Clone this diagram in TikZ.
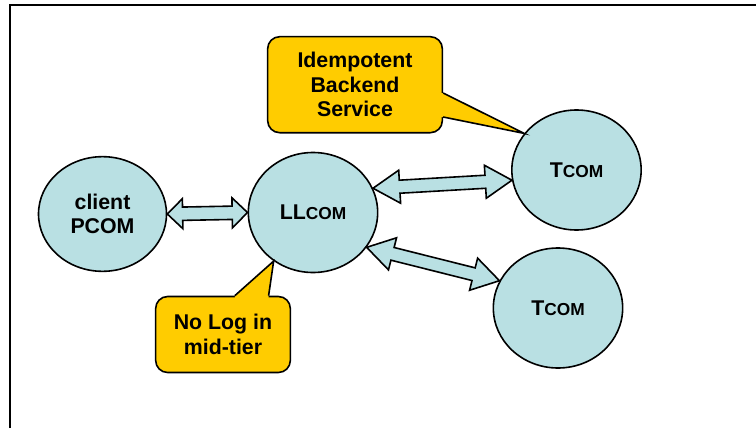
\documentclass[tikz,border=0pt]{standalone}
\usepackage{fontspec}
\setmainfont{Liberation Sans}
\usetikzlibrary{calc, shapes.geometric}
\definecolor{comblue}{HTML}{B9E0E3}
\definecolor{notegold}{HTML}{FFCC00}
\newcommand{\smallcom}[1]{{\fontsize{13}{15}\selectfont #1}}

\begin{document}
\begin{tikzpicture}[
    x=0.75pt, y=-0.75pt,
    every node/.style={font=\bfseries\fontsize{16}{18.5}\selectfont},
    com/.style={
      ellipse, draw, line width=1.2pt, fill=comblue,
      minimum width=97pt, minimum height=90pt, inner sep=0pt, align=center
    },
    note/.style={
      rectangle, rounded corners=9pt, draw, line width=1.2pt, fill=notegold,
      inner sep=0pt, align=center
    },
    fatlink/.style={draw, line width=1.2pt, fill=comblue, line join=miter},
    pointer/.style={draw, line width=1.2pt, line join=miter},
  ]
  \useasboundingbox (0,0) rectangle (756,428);

  % ============ Frame ============
  \draw[line width=1.5pt] (9.5,428) -- (9.5,5.5) -- (756,5.5);

  % ============ Components ============
  \node[com, minimum width=96pt, minimum height=86pt] (client) at (102.5,214) {client\\PCOM};
  \node[com] (llcom) at (313,212.5) {LL\smallcom{COM}};
  \node[com] (tcomA) at (576.5,170) {T\smallcom{COM}};
  \node[com] (tcomB) at (558,308) {T\smallcom{COM}};

  % ============ Block arrows ============
  \foreach \a/\b/\hl/\hw/\sw in {client.east/llcom.west/11.5pt/11.25pt/5pt,
                                 llcom.22/tcomA.189/20pt/12.4pt/4.9pt,
                                 llcom.327/tcomB.155/20pt/12.4pt/4.9pt}
    \draw[fatlink] let \p1=(\a), \p2=(\b),
        \n1={atan2(\y2-\y1,\x2-\x1)}, \n2={veclen(\x2-\x1,\y2-\y1)} in
      [shift={(\p1)}, rotate=\n1]
      (0pt,0pt) -- (\hl,\hw) -- (\hl,\sw) -- ({\n2-\hl},\sw) -- ({\n2-\hl},\hw)
      -- (\n2,0pt) -- ({\n2-\hl},-\hw) -- ({\n2-\hl},-\sw) -- (\hl,-\sw)
      -- (\hl,-\hw) -- cycle;

  % ============ Callouts ============
  \node[note, minimum width=131pt, minimum height=72pt] (idem) at (355,84.7)
    {Idempotent\\Backend\\Service};
  \node[note, minimum width=101pt, minimum height=57pt] (nolog) at (223,334.5)
    {No Log in\\mid-tier};

  % pointer: Idempotent -> upper TCOM
  \fill[notegold] ($(idem.east)+(-3,8.3)$) -- ($(idem.east)+(0,8.3)$) -- (tcomA.145)
    -- ($(idem.east)+(0,32.3)$) -- ($(idem.east)+(-3,32.3)$) -- cycle;
  \draw[pointer] ($(idem.east)+(0,8.3)$) -- (tcomA.145) -- ($(idem.east)+(0,32.3)$);

  % pointer: No Log -> LLCOM
  \fill[notegold] ($(nolog.north)+(11.8,3)$) -- ($(nolog.north)+(11.8,0)$) -- (llcom.231)
    -- ($(nolog.north)+(45.6,0)$) -- ($(nolog.north)+(45.6,3)$) -- cycle;
  \draw[pointer] ($(nolog.north)+(11.8,0)$) -- (llcom.231) -- ($(nolog.north)+(45.6,0)$);

\end{tikzpicture}
\end{document}
